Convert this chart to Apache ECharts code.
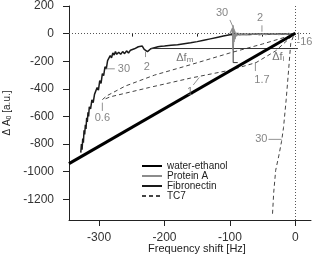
<!DOCTYPE html>
<html>
<head>
<meta charset="utf-8">
<script src="https://cdn.jsdelivr.net/npm/echarts@6/dist/echarts.min.js"></script>
<style>
  html, body { margin: 0; padding: 0; background: #fff; }
  #chart { width: 314px; height: 256px; }
</style>
</head>
<body>
<div id="chart"></div>
<script>
// axis ticks
var xTicks = [-300, -200, -100, 0];
var xMinorTicks = [-250, -150, -50];
var yTicks = [200, 0, -200, -400, -600, -800, -1000, -1200];

// series values [frequency shift, dA0]
var waterEthanol = [[-346, -942], [0, 3]];

var fibronectin = [
  [-328,-862],[-327,-800],[-326,-840],[-325,-760],[-324,-790],[-323,-700],[-322,-730],
  [-321,-660],[-320,-690],[-319,-610],[-318,-640],[-317,-570],[-316,-600],[-315,-530],
  [-313,-545],[-311,-480],[-309,-500],[-307,-440],[-305,-450],[-303,-390],[-301,-410],
  [-299,-340],[-297,-360],[-295,-290],[-293,-305],[-291,-240],[-289,-255],[-287,-195],
  [-285,-200],[-283,-160],[-281,-175],[-279,-140],[-277,-155],[-275,-130],[-273,-150],
  [-270,-135],[-267,-150],[-264,-130],[-261,-145],[-258,-125],[-255,-140],[-252,-120],
  [-249,-130],[-246,-110],[-243,-120],[-240,-95],[-237,-105],[-234,-90],[-231,-115],
  [-228,-110],[-226,-130],[-224,-125],[-221,-110],[-218,-105],[-214,-100],[-210,-95],
  [-205,-92],[-200,-90],[-190,-85],[-180,-80],[-170,-73],[-160,-66],[-150,-58],
  [-140,-48],[-130,-38],[-120,-28],[-110,-18],[-100,-8],[-90,-6],[-80,-4],[-70,-6],
  [-60,-3],[-50,-5],[-40,-2],[-30,-4],[-20,-1],[-10,-2],[0,0]
];

var proteinA = [
  [-100,-2],[-97,-3],[-96,40],[-95.5,-120],[-95,60],[-94.5,-80],[-94,30],[-93.5,-60],
  [-93,20],[-92,-40],[-91,10],[-90,-20],[-88,5],[-85,-10],[-80,-2],[-75,-8],[-70,0],
  [-65,-6],[-60,-2],[-55,-9],[-50,-4],[-45,-8],[-40,-1],[-35,-6],[-30,-2],[-25,-7],
  [-20,0],[-15,-5],[-10,2],[-5,-3],[0,2]
];

var tc7Upper = [[-295,-478],[-288,-450],[-260,-380],[-215,-300],[-160,-225],[-100,-140],[-50,-75],[-10,-18],[0,0]];
var tc7Lower = [[-290,-472],[-283,-458],[-223,-390],[-160,-322],[-100,-265],[-60,-210],[-30,-125],[-8,-30],[0,0]];
var tc7Steep = [[-3,-20],[-7,-70],[-10,-250],[-14,-480],[-18,-680],[-21,-780],[-25,-880],[-30,-990],[-33,-1150],[-35,-1320]];

// annotation lines
var markerLines = [
  [[-222,-108],[4,-108]],
  [[-95,-20],[-95,-210],[-88,-210]]
];
var leaderLines = [
  [[-290,-255],[-276,-255]],
  [[-229,-130],[-229,-170]],
  [[-295,-500],[-295,-560]],
  [[-147,-318],[-156,-372]],
  [[-61,-206],[-61,-271]],
  [[-100,99],[-92,14]],
  [[-51,60],[-51,14]],
  [[5,10],[5,-45]],
  [[-41,-766],[-21,-766]]
];
var annotations = [
  {text: '30', pos: [-262, -256]},
  {text: '2', pos: [-227, -240]},
  {text: '0.6', pos: [-295, -612]},
  {text: '{a|Δf}{s|m}', pos: [-169, -177]},
  {text: '1', pos: [-161, -423]},
  {text: '1.7', pos: [-51, -336]},
  {text: '{a|Δf}{s|i}', pos: [-26, -170]},
  {text: '30', pos: [-112, 149]},
  {text: '2', pos: [-54, 113]},
  {text: '-16', pos: [14, -61]},
  {text: '30', pos: [-52, -764]}
];

var myChart = echarts.init(document.getElementById('chart'));

var series = [
  {
    name: 'water-ethanol', type: 'line', data: waterEthanol, symbol: 'none',
    lineStyle: {color: '#000', width: 3}, itemStyle: {color: '#000'}, z: 5
  },
  {
    name: 'Protein A', type: 'line', data: proteinA, symbol: 'none',
    lineStyle: {color: '#8c8c8c', width: 1.3}, itemStyle: {color: '#8c8c8c'}, z: 4
  },
  {
    name: 'Fibronectin', type: 'line', data: fibronectin, symbol: 'none',
    lineStyle: {color: '#1a1a1a', width: 1.5}, itemStyle: {color: '#1a1a1a'}, z: 3
  },
  {
    name: 'TC7', type: 'line', data: tc7Upper, symbol: 'none',
    lineStyle: {color: '#444', width: 1, type: [4, 3]}, itemStyle: {color: '#444'}
  },
  {
    name: 'TC7', type: 'line', data: tc7Lower, symbol: 'none',
    lineStyle: {color: '#444', width: 1, type: [4, 3]}, itemStyle: {color: '#444'}
  },
  {
    name: 'TC7', type: 'line', data: tc7Steep, symbol: 'none',
    lineStyle: {color: '#444', width: 1, type: [4, 3]}, itemStyle: {color: '#444'}
  },
  {
    // dotted zero lines
    name: 'zero', type: 'line', data: [], symbol: 'none', silent: true,
    markLine: {
      symbol: 'none', silent: true, animation: false,
      label: {show: false},
      lineStyle: {color: '#555', width: 1, type: [1, 2]},
      data: [{xAxis: 0}, {yAxis: 0}]
    }
  }
];

markerLines.forEach(function (seg) {
  series.push({
    type: 'line', data: seg, symbol: 'none', silent: true,
    lineStyle: {color: '#333', width: 1}
  });
});
leaderLines.forEach(function (seg) {
  series.push({
    type: 'line', data: seg, symbol: 'none', silent: true,
    lineStyle: {color: '#777', width: 0.8}
  });
});
series.push({
  type: 'scatter', symbolSize: 0, silent: true, z: 10,
  data: annotations.map(function (a) { return {value: a.pos, name: a.text}; }),
  label: {
    show: true, position: 'inside', color: '#666', fontSize: 11,
    formatter: function (p) { return p.name; },
    rich: {
      a: {fontSize: 11, color: '#555', lineHeight: 12},
      s: {fontSize: 8, color: '#555', lineHeight: 12, padding: [3, 0, 0, 0]}
    }
  }
});

var plain = function (v) { return String(v); };

var option = {
  animation: false,
  textStyle: {fontFamily: 'Liberation Sans, Arial, sans-serif'},
  grid: {left: 69, top: 6, width: 242, height: 214, outerBoundsMode: 'none', containLabel: false},
  legend: {
    data: ['water-ethanol', 'Protein A', 'Fibronectin', 'TC7'],
    orient: 'vertical', left: 141, top: 161,
    itemWidth: 20, itemHeight: 7, itemGap: 0, padding: 0,
    itemStyle: {opacity: 0},
    textStyle: {fontSize: 10, color: '#222', lineHeight: 8.5, padding: 0}
  },
  xAxis: [
    {
      type: 'value', min: -346, max: 24,
      name: 'Frequency shift [Hz]', nameLocation: 'middle', nameGap: 23, nameMoveOverlap: false,
      nameTextStyle: {fontSize: 11, color: '#222', padding: [0, 0, 0, 14]},
      axisLine: {onZero: false, lineStyle: {color: '#222', width: 1}},
      axisTick: {customValues: xTicks, length: 6, lineStyle: {color: '#222'}},
      axisLabel: {customValues: xTicks, fontSize: 12, color: '#333', margin: 12, formatter: plain},
      splitLine: {show: false}
    },
    {
      type: 'value', min: -346, max: 24, position: 'bottom',
      axisLine: {show: false},
      axisTick: {customValues: xMinorTicks, length: 3, lineStyle: {color: '#222'}},
      axisLabel: {show: false},
      splitLine: {show: false}
    }
  ],
  yAxis: {
    type: 'value', min: -1350, max: 200,
    name: '{a|Δ A}{s|0}{a| [a.u.]}', nameLocation: 'middle', nameGap: 56, nameMoveOverlap: false,
    nameTextStyle: {
      rich: {
        a: {fontSize: 10, color: '#222', lineHeight: 12},
        s: {fontSize: 7, color: '#222', lineHeight: 12, padding: [4, 0, 0, 0]}
      }
    },
    axisLine: {onZero: false, lineStyle: {color: '#222', width: 1}},
    axisTick: {customValues: yTicks, length: 6, lineStyle: {color: '#222'}},
    axisLabel: {customValues: yTicks, fontSize: 12, color: '#333', margin: 15, formatter: plain},
    splitLine: {show: false}
  },
  series: series
};
myChart.setOption(option);
</script>
</body>
</html>
